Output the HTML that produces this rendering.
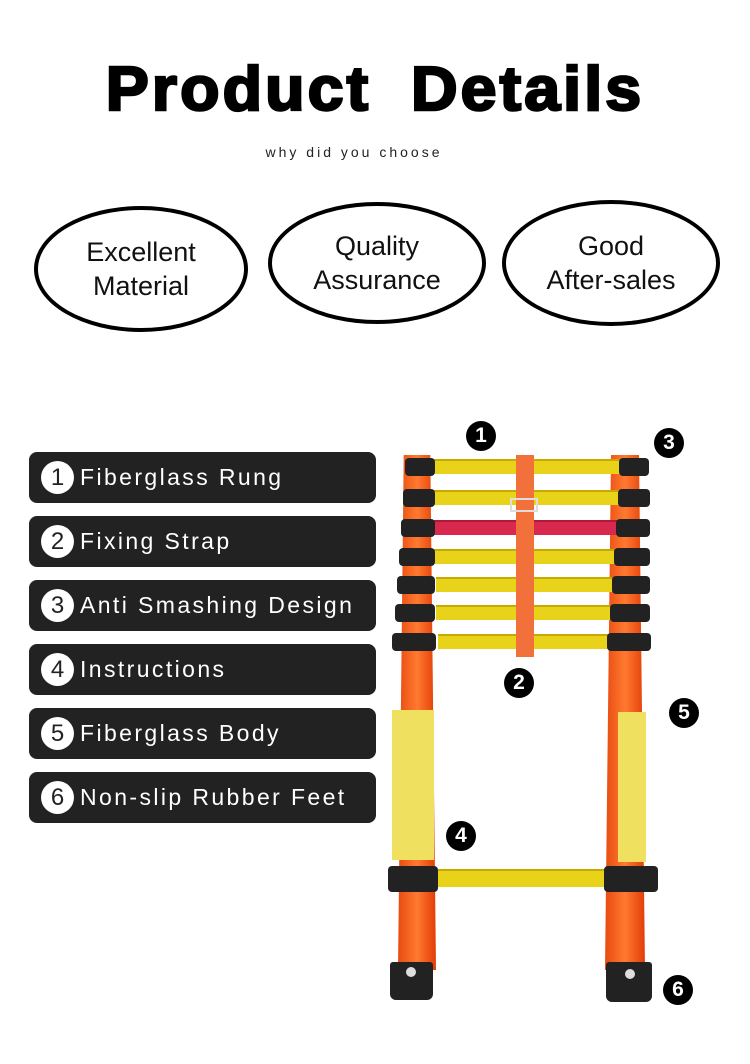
<!DOCTYPE html><html><head><style>
body{margin:0;width:750px;height:1064px;background:#fff;position:relative;overflow:hidden;font-family:"Liberation Sans",sans-serif}
.a{position:absolute}
.el{position:absolute;border:4px solid #000;border-radius:50%;box-sizing:border-box;display:flex;align-items:center;justify-content:center;text-align:center;font-size:27px;line-height:34px;color:#111}
.it{position:absolute;left:29px;width:347px;height:51px;background:#222;border-radius:8px;color:#fff;font-size:23px;letter-spacing:2.4px;line-height:51px;box-sizing:border-box;padding-left:51px}
.it b{position:absolute;left:12px;top:9px;width:33px;height:33px;border-radius:50%;background:#fff;color:#222;font-weight:normal;text-align:center;line-height:33px;font-size:24px;letter-spacing:0}
.n{position:absolute;width:30px;height:30px;border-radius:50%;background:#000;color:#fff;font-weight:bold;font-size:21px;text-align:center;line-height:30px}
.r{position:absolute;height:15px;background:#e8d21a;border-top:2px solid #c9a800;box-sizing:border-box}
.c{position:absolute;height:18px;background:#222;border-radius:4px}
</style></head><body>
<div class="a" style="left:0;width:750px;top:54px;text-align:center;font-size:62px;font-weight:900;letter-spacing:3px;-webkit-text-stroke:2.5px #000;word-spacing:18px;transform:scaleX(1.04)">Product Details</div>
<div class="a" style="left:0;width:708px;top:144px;text-align:center;font-size:14px;letter-spacing:3px;color:#222">why did you choose</div>
<div class="el" style="left:34px;top:206px;width:214px;height:126px">Excellent<br>Material</div>
<div class="el" style="left:268px;top:202px;width:218px;height:122px">Quality<br>Assurance</div>
<div class="el" style="left:502px;top:200px;width:218px;height:126px">Good<br>After-sales</div>

<div class="it" style="top:452px"><b>1</b>Fiberglass Rung</div>
<div class="it" style="top:516px"><b>2</b>Fixing Strap</div>
<div class="it" style="top:580px"><b>3</b>Anti Smashing Design</div>
<div class="it" style="top:644px"><b>4</b>Instructions</div>
<div class="it" style="top:708px"><b>5</b>Fiberglass Body</div>
<div class="it" style="top:772px"><b>6</b>Non-slip Rubber Feet</div>

<div class="a" style="left:398px;top:455px;width:38px;height:515px;background:linear-gradient(90deg,#e84a10,#ff7a30,#e33c08);clip-path:polygon(15% 0,85% 0,100% 100%,0 100%)"></div>
<div class="a" style="left:605px;top:455px;width:40px;height:515px;background:linear-gradient(90deg,#e84a10,#ff7a30,#e33c08);clip-path:polygon(15% 0,85% 0,100% 100%,0 100%)"></div>
<div class="r" style="left:432px;top:459px;width:190px"></div>
<div class="r" style="left:432px;top:490px;width:188px"></div>
<div class="r" style="left:434px;top:520px;width:184px;background:#d8284e;border-color:#b01838"></div>
<div class="r" style="left:434px;top:549px;width:180px"></div>
<div class="r" style="left:436px;top:577px;width:176px"></div>
<div class="r" style="left:436px;top:605px;width:174px"></div>
<div class="r" style="left:438px;top:634px;width:170px"></div>
<div class="r" style="left:436px;top:869px;width:170px;height:18px"></div>
<div class="c" style="left:405px;top:458px;width:30px"></div><div class="c" style="left:619px;top:458px;width:30px"></div>
<div class="c" style="left:403px;top:489px;width:32px"></div><div class="c" style="left:618px;top:489px;width:32px"></div>
<div class="c" style="left:401px;top:519px;width:34px"></div><div class="c" style="left:616px;top:519px;width:34px"></div>
<div class="c" style="left:399px;top:548px;width:36px"></div><div class="c" style="left:614px;top:548px;width:36px"></div>
<div class="c" style="left:397px;top:576px;width:38px"></div><div class="c" style="left:612px;top:576px;width:38px"></div>
<div class="c" style="left:395px;top:604px;width:40px"></div><div class="c" style="left:610px;top:604px;width:40px"></div>
<div class="c" style="left:392px;top:633px;width:44px"></div><div class="c" style="left:607px;top:633px;width:44px"></div>
<div class="c" style="left:388px;top:866px;width:50px;height:26px"></div><div class="c" style="left:604px;top:866px;width:54px;height:26px"></div>
<div class="a" style="left:516px;top:455px;width:18px;height:202px;background:#f2703a"></div>
<div class="a" style="left:510px;top:498px;width:28px;height:14px;border:2px solid #ddd;box-sizing:border-box"></div>
<div class="a" style="left:392px;top:710px;width:42px;height:150px;background:#efe060"></div>
<div class="a" style="left:618px;top:712px;width:28px;height:150px;background:#efe060"></div>
<div class="a" style="left:390px;top:962px;width:43px;height:38px;background:#222;border-radius:3px 3px 6px 6px"></div>
<div class="a" style="left:606px;top:962px;width:46px;height:40px;background:#222;border-radius:3px 3px 6px 6px"></div>
<div class="a" style="left:406px;top:967px;width:10px;height:10px;border-radius:50%;background:#ddd"></div>
<div class="a" style="left:625px;top:969px;width:10px;height:10px;border-radius:50%;background:#ddd"></div>
<div class="n" style="left:466px;top:421px">1</div>
<div class="n" style="left:654px;top:428px">3</div>
<div class="n" style="left:504px;top:668px">2</div>
<div class="n" style="left:669px;top:698px">5</div>
<div class="n" style="left:446px;top:821px">4</div>
<div class="n" style="left:663px;top:975px">6</div>
</body></html>
